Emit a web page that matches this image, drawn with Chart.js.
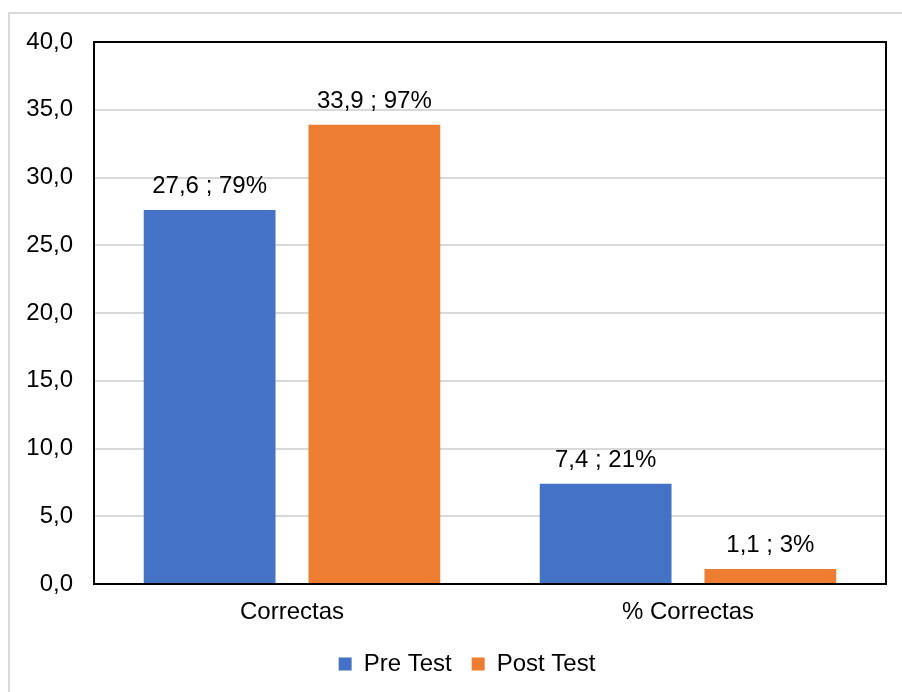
<!DOCTYPE html>
<html>
<head>
<meta charset="utf-8">
<script src="https://cdn.jsdelivr.net/npm/chart.js@4/dist/chart.umd.min.js"></script>
<style>
  html, body { margin: 0; padding: 0; background: #ffffff; overflow: hidden; }
  #frame {
    position: absolute; left: 8px; top: 12px;
    width: 940px; height: 720px;
    border: 2px solid #d9d9d9; box-sizing: border-box;
  }
  #wrap { position: absolute; left: 0; top: 0; width: 934px; height: 700px; }
</style>
</head>
<body>
<div id="frame"></div>
<div id="wrap"><canvas id="chart" width="934" height="700"></canvas></div>
<script>
// Categories and series
const categories = ['Correctas', '% Correctas'];
const preTest = [27.6, 7.4];
const postTest = [33.9, 1.1];
const prePct = [79, 21];
const postPct = [97, 3];
const seriesNames = ['Pre Test', 'Post Test'];

// Y axis range
const yMin = 0;
const yMax = 40;
const yStep = 5;

const FONT = "'Liberation Sans', Arial, sans-serif";
const FONT_SIZE = 24;
const fmt = v => v.toFixed(1).replace('.', ',');

// Labels above each bar: "value ; percent%"
const barLabels = {
  id: 'barLabels',
  afterDatasetsDraw(chart) {
    const ctx = chart.ctx;
    const pcts = [prePct, postPct];
    ctx.save();
    ctx.font = FONT_SIZE + 'px ' + FONT;
    ctx.fillStyle = '#000000';
    ctx.textAlign = 'center';
    ctx.textBaseline = 'alphabetic';
    chart.data.datasets.forEach((ds, di) => {
      chart.getDatasetMeta(di).data.forEach((bar, i) => {
        const txt = fmt(ds.data[i]) + ' ; ' + pcts[di][i] + '%';
        ctx.fillText(txt, bar.x, bar.y - 17);
      });
    });
    ctx.restore();
  }
};

// Black frame round the plot area
const plotFrame = {
  id: 'plotFrame',
  afterDatasetsDraw(chart) {
    const a = chart.chartArea;
    const ctx = chart.ctx;
    ctx.save();
    ctx.strokeStyle = '#000000';
    ctx.lineWidth = 2;
    ctx.strokeRect(a.left, a.top, a.right - a.left, a.bottom - a.top);
    ctx.restore();
  }
};

// Centre the legend on the whole chart frame rather than the padded box
const legendShift = {
  id: 'legendShift',
  afterLayout(chart) {
    const lg = chart.legend;
    if (!lg) return;
    const right = lg.right;
    lg.left = 48;
    lg.width = right - lg.left;
  }
};

new Chart(document.getElementById('chart'), {
  type: 'bar',
  data: {
    labels: categories,
    datasets: [
      { label: seriesNames[0], data: preTest, backgroundColor: '#4472C4' },
      { label: seriesNames[1], data: postTest, backgroundColor: '#ED7D31' }
    ]
  },
  options: {
    responsive: false,
    animation: false,
    devicePixelRatio: 1,
    categoryPercentage: 0.832,
    barPercentage: 0.8,
    layout: { padding: { left: 0, right: 48, top: 42, bottom: 14 } },
    plugins: {
      tooltip: { enabled: false },
      legend: {
        position: 'bottom',
        labels: {
          boxWidth: 13,
          boxHeight: 13,
          padding: 20,
          color: '#000000',
          font: { family: FONT, size: FONT_SIZE }
        }
      }
    },
    scales: {
      x: {
        grid: { display: false, drawTicks: false },
        border: { display: false },
        ticks: { color: '#000000', padding: 14, font: { family: FONT, size: FONT_SIZE } },
        afterFit(scale) { scale.height = 48; }
      },
      y: {
        min: yMin,
        max: yMax,
        grid: { color: '#d9d9d9', lineWidth: 2, drawTicks: false },
        border: { display: false },
        ticks: {
          stepSize: yStep,
          padding: 21,
          color: '#000000',
          font: { family: FONT, size: FONT_SIZE },
          callback: v => fmt(v)
        },
        afterFit(scale) { scale.width = 94; }
      }
    }
  },
  plugins: [barLabels, plotFrame, legendShift]
});
</script>
</body>
</html>
